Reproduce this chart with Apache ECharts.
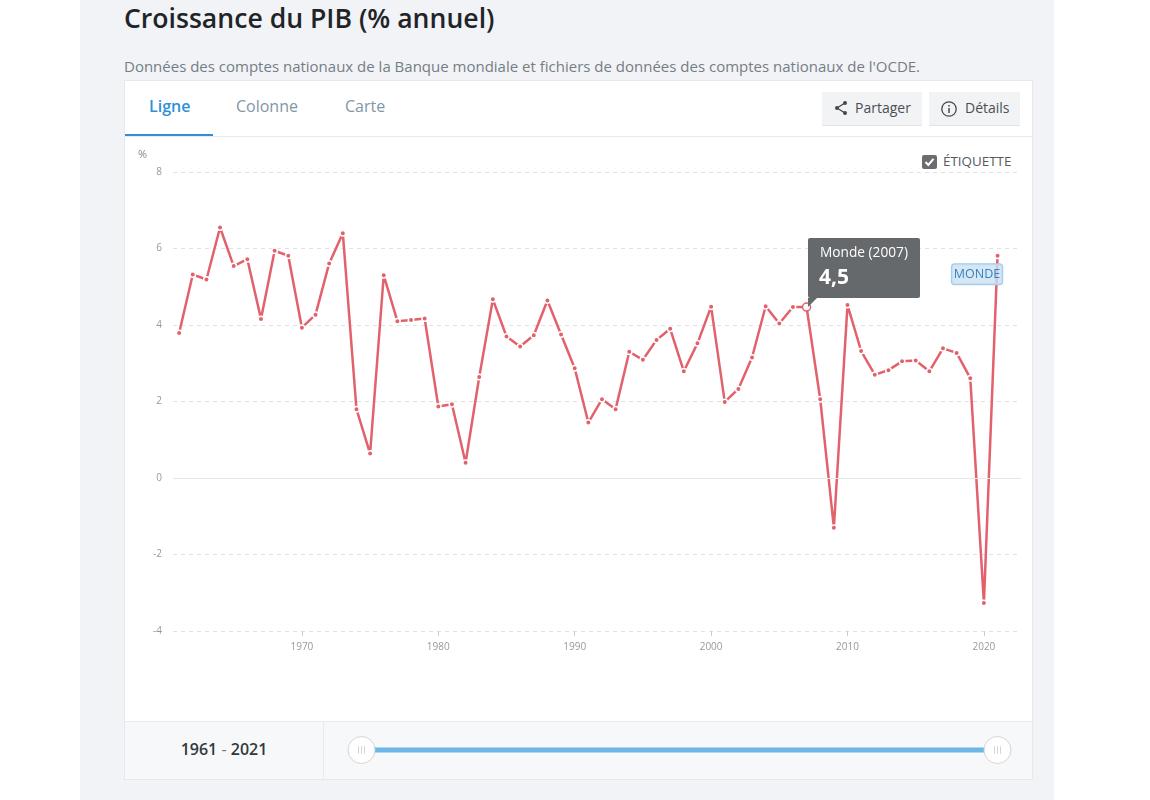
<!DOCTYPE html>
<html lang="fr">
<head>
<meta charset="utf-8">
<title>Croissance du PIB (% annuel)</title>
<script src="https://cdn.jsdelivr.net/npm/echarts@6/dist/echarts.min.js"></script>
<style>
html, body { margin: 0; padding: 0; background: #fff; font-family: "Open Sans", sans-serif; }
#page { position: relative; width: 1150px; height: 800px; overflow: hidden; }
#panel { position: absolute; left: 80px; top: 0; width: 974px; height: 800px; background: #f1f3f7; }
#title { position: absolute; left: 124px; top: 0; font-size: 26.6px; line-height: 36px; font-weight: 600; color: #1f2428; white-space: nowrap; }
#subtitle { position: absolute; left: 124px; top: 56px; font-size: 15px; line-height: 20px; color: #767d84; white-space: nowrap; }
#card { position: absolute; left: 124px; top: 80px; width: 907px; height: 698px; background: #fff; border: 1px solid #e6e8ec; }
#head { position: absolute; left: 0; top: 0; width: 907px; height: 55px; border-bottom: 1px solid #e8eaed; }
.tab { position: absolute; top: 14px; font-size: 16px; line-height: 22px; color: #7f97a6; }
.tab.on { color: #2f8fd8; font-weight: 600; }
#underline { position: absolute; left: 0; top: 53px; width: 88px; height: 2px; background: #2f8fd8; }
.btn { position: absolute; top: 11px; height: 33px; background: #f2f3f5; border-bottom: 1px solid #e2e4e7; font-size: 14px; line-height: 32px; color: #4a4f54; }
.btn svg { position: absolute; left: 11px; top: 8px; }
.btn span { position: absolute; left: 33px; white-space: nowrap; }
#foot { position: absolute; left: 0; top: 640px; width: 907px; height: 57px; background: #f7f8fa; border-top: 1px solid #e8eaed; }
#range { position: absolute; left: 0; top: 0; width: 198px; height: 57px; border-right: 1px solid #e8eaed; text-align: center; font-size: 16px; line-height: 55px; font-weight: 600; color: #33383d; }
#range i { font-style: normal; font-weight: 400; color: #777; }
#tag { position: absolute; left: 922px; top: 154px; font-size: 13.4px; line-height: 15px; color: #555a5f; white-space: nowrap; }
#tag b { position: absolute; left: 0; top: 1px; width: 15px; height: 14px; border-radius: 2px; background: #6a6e71; }
#tag svg { position: absolute; left: 0; top: 1px; }
#tag span { position: absolute; left: 21px; top: 0; }
#main { position: absolute; left: 0; top: 0; width: 1150px; height: 800px; }
</style>
</head>
<body>
<div id="page">
  <div id="panel"></div>
  <div id="title">Croissance du PIB (% annuel)</div>
  <div id="subtitle">Données des comptes nationaux de la Banque mondiale et fichiers de données des comptes nationaux de l'OCDE.</div>
  <div id="card">
    <div id="head">
      <div class="tab on" style="left:24px">Ligne</div>
      <div class="tab" style="left:111px">Colonne</div>
      <div class="tab" style="left:220px">Carte</div>
      <div id="underline"></div>
      <div class="btn" style="left:697px;width:100px">
        <svg width="16" height="16" viewBox="0 0 16 16"><path d="M12 3L4 8L12 13" fill="none" stroke="#44494e" stroke-width="1.3"/><circle cx="12" cy="3" r="2" fill="#44494e"/><circle cx="4" cy="8" r="2" fill="#44494e"/><circle cx="12" cy="13" r="2" fill="#44494e"/></svg>
        <span>Partager</span>
      </div>
      <div class="btn" style="left:804px;width:91px">
        <svg width="18" height="18" viewBox="0 0 18 18"><circle cx="9" cy="9" r="7.2" fill="none" stroke="#44494e" stroke-width="1.3"/><path d="M9 8V13M9 5V6.5" stroke="#44494e" stroke-width="1.5"/></svg>
        <span style="left:36px">Détails</span>
      </div>
    </div>
    <div id="foot"><div id="range">1961 <i>-</i> 2021</div></div>
  </div>
  <div id="tag">
    <b></b>
    <svg width="15" height="14" viewBox="0 0 15 14"><path d="M3.5 7L6.3 10L11.5 3.8" fill="none" stroke="#fff" stroke-width="2"/></svg>
    <span>ÉTIQUETTE</span>
  </div>
  <div id="main"></div>
</div>
<script>
// values
var years = [1961, 1962, 1963, 1964, 1965, 1966, 1967, 1968, 1969, 1970,
    1971, 1972, 1973, 1974, 1975, 1976, 1977, 1978, 1979, 1980,
    1981, 1982, 1983, 1984, 1985, 1986, 1987, 1988, 1989, 1990,
    1991, 1992, 1993, 1994, 1995, 1996, 1997, 1998, 1999, 2000,
    2001, 2002, 2003, 2004, 2005, 2006, 2007, 2008, 2009, 2010,
    2011, 2012, 2013, 2014, 2015, 2016, 2017, 2018, 2019, 2020, 2021];
var monde = [3.79, 5.32, 5.19, 6.55, 5.54, 5.72, 4.16, 5.94, 5.81, 3.93,
    4.27, 5.61, 6.40, 1.80, 0.64, 5.30, 4.10, 4.13, 4.17, 1.87,
    1.93, 0.40, 2.64, 4.67, 3.70, 3.44, 3.73, 4.64, 3.75, 2.87,
    1.45, 2.06, 1.80, 3.30, 3.09, 3.61, 3.90, 2.79, 3.52, 4.48,
    1.99, 2.33, 3.15, 4.49, 4.04, 4.47, 4.47, 2.06, -1.30, 4.52,
    3.32, 2.70, 2.82, 3.05, 3.07, 2.79, 3.39, 3.27, 2.61, -3.27, 5.81];
var yearTicks = [1970, 1980, 1990, 2000, 2010, 2020];
var seriesName = 'Monde';
var activeYear = 2007;

var lineColor = '#e2616c';

var points = years.map(function (y, i) {
    var item = { value: [y, monde[i]] };
    if (y === activeYear) {
        item.symbolSize = 8;
        item.itemStyle = { color: '#fff', borderColor: lineColor, borderWidth: 1.5 };
    }
    if (i === years.length - 1) {
        item.label = {
            show: true,
            position: 'bottom',
            offset: [-20.5, 0],
            formatter: seriesName.toUpperCase(),
            fontFamily: 'Open Sans',
            fontSize: 12.5,
            color: '#3f80b8',
            backgroundColor: 'rgba(201,225,245,0.8)',
            borderColor: '#a4c9e8',
            borderWidth: 1,
            borderRadius: 3,
            padding: [4, 2, 3, 2]
        };
    }
    return item;
});

var myChart = echarts.init(document.getElementById('main'));

var option = {
    animation: false,
    textStyle: { fontFamily: 'Open Sans' },
    grid: { left: 173, right: 129, top: 172, bottom: 169 },
    tooltip: {
        trigger: 'item',
        alwaysShowContent: true,
        transitionDuration: 0,
        position: [808, 238],
        backgroundColor: '#66696c',
        borderWidth: 0,
        padding: 0,
        extraCssText: 'box-shadow:none;border-radius:2px;',
        formatter: function (p) {
            return '<div style="position:relative;width:112px;height:60px;font-family:Open Sans;color:#fff">' +
                '<div style="position:absolute;left:12px;top:4px;font-size:13.7px;line-height:20px;white-space:nowrap">' + seriesName + ' (' + p.value[0] + ')</div>' +
                '<div style="position:absolute;left:11px;top:24px;font-size:21px;line-height:28px;font-weight:700">' + p.value[1].toFixed(1).replace('.', ',') + '</div>' +
                '<div style="position:absolute;left:0;top:60px;width:0;height:0;border-left:0 solid transparent;border-top:9px solid #66696c;border-right:9px solid transparent"></div>' +
                '</div>';
        }
    },
    xAxis: {
        type: 'value',
        min: 1960.55,
        max: 2022.72,
        splitLine: { show: false },
        axisLine: { show: false, onZero: false },
        axisTick: { show: true, customValues: yearTicks, length: 5, lineStyle: { color: '#ccc' } },
        axisLabel: {
            customValues: yearTicks,
            formatter: function (v) { return String(v); },
            color: '#999',
            fontSize: 10,
            margin: 11
        }
    },
    yAxis: {
        type: 'value',
        min: -4,
        max: 8,
        interval: 2,
        name: '%',
        nameLocation: 'end',
        nameGap: 12,
        nameTextStyle: { color: '#888', fontSize: 11, align: 'right', padding: [0, 26, 0, 0] },
        axisLine: { show: false },
        axisTick: { show: false },
        axisLabel: { color: '#999', fontSize: 10, margin: 11 },
        splitLine: { lineStyle: { color: '#e2e2e2', type: [4, 4], width: 1 } }
    },
    dataZoom: [{
        type: 'slider',
        xAxisIndex: 0,
        filterMode: 'none',
        start: 0,
        end: 100,
        left: 359,
        right: 153,
        top: 747.5,
        height: 5,
        showDetail: false,
        showDataShadow: false,
        brushSelect: false,
        moveHandleSize: 0,
        backgroundColor: 'transparent',
        borderColor: 'transparent',
        fillerColor: '#6cb6e8',
        handleIcon: 'path://M50 0A50 50 0 1 1 50 100A50 50 0 1 1 50 0ZM39 36V64M50 36V64M61 36V64',
        handleSize: 27,
        handleStyle: { color: '#fff', borderColor: '#d4d4d4', borderWidth: 1 }
    }],
    series: [{
        name: seriesName,
        type: 'line',
        data: points,
        showSymbol: true,
        showAllSymbol: true,
        symbol: 'circle',
        symbolSize: 5.5,
        itemStyle: { color: lineColor, borderColor: '#fff', borderWidth: 1.5 },
        lineStyle: { color: lineColor, width: 2.5 },
        emphasis: { disabled: true },
        markLine: {
            silent: true,
            symbol: 'none',
            label: { show: false },
            lineStyle: { color: '#e8e8e8', type: 'solid', width: 1 },
            data: [{ yAxis: 0 }]
        }
    }]
};

myChart.setOption(option);
myChart.dispatchAction({ type: 'showTip', seriesIndex: 0, dataIndex: years.indexOf(activeYear) });
</script>
</body>
</html>
